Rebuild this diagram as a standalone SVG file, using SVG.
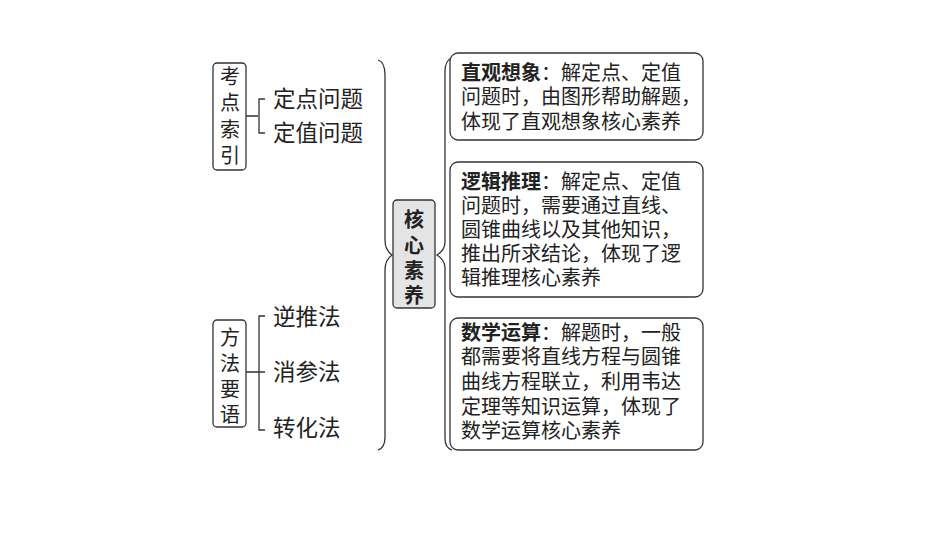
<svg xmlns="http://www.w3.org/2000/svg" width="950" height="535" viewBox="0 0 950 535">
<style>
text{font-family:"Noto Sans CJK SC","Liberation Serif",serif;font-size:20px;fill:#222}
.b{font-weight:bold}
.l{font-size:22.5px}
.box{fill:#fff;stroke:#333;stroke-width:1.3}
.ln{fill:none;stroke:#333;stroke-width:1.3}
.v{text-anchor:middle}
</style>
<rect width="950" height="535" fill="#fff"/>
<g id="connectors">
<path class="ln" d="M246,116 H258 M265,99 H259 V133 H265"/>
<path class="ln" d="M246,372 H265 M265,316 H259 V430 H265"/>
<path class="ln" d="M378,60 Q385,62 385,75 V240 Q385,250 392,255 Q385,260 385,270 V437 Q385,448 378,450"/>
<path class="ln" d="M452,58 Q445,60 445,72 V242 Q445,250 437,255 Q445,260 445,268 V438 Q445,448 452,450"/>
</g>
<g id="kaodian">
<rect class="box" x="213" y="63" width="33" height="107" rx="4"/>
<text class="v" x="230" y="84">考</text><text class="v" x="230" y="110">点</text><text class="v" x="230" y="137">索</text><text class="v" x="230" y="163">引</text>
</g>
<g id="d1"><text class="l" x="273" y="107">定点问题</text></g>
<g id="d2"><text class="l" x="273" y="141">定值问题</text></g>
<g id="fangfa">
<rect class="box" x="213" y="320" width="33" height="107" rx="4"/>
<text class="v" x="230" y="345">方</text><text class="v" x="230" y="371">法</text><text class="v" x="230" y="397">要</text><text class="v" x="230" y="422">语</text>
</g>
<g id="m1"><text class="l" x="273" y="325">逆推法</text></g>
<g id="m2"><text class="l" x="273" y="380">消参法</text></g>
<g id="m3"><text class="l" x="273" y="436">转化法</text></g>
<g id="core">
<rect x="393" y="200" width="42" height="108" rx="4" fill="#e4e4e4" stroke="#333" stroke-width="1.3"/>
<text class="v b" x="414" y="227">核</text><text class="v b" x="414" y="253">心</text><text class="v b" x="414" y="278">素</text><text class="v b" x="414" y="303">养</text>
</g>
<g id="r1">
<rect class="box" x="450" y="53" width="253" height="87" rx="8"/>
<text x="461" y="80"><tspan class="b">直观想象</tspan>：解定点、定值</text>
<text x="461" y="104">问题时，由图形帮助解题，</text>
<text x="461" y="129">体现了直观想象核心素养</text>
</g>
<g id="r2">
<rect class="box" x="450" y="162" width="253" height="135" rx="8"/>
<text x="461" y="189"><tspan class="b">逻辑推理</tspan>：解定点、定值</text>
<text x="461" y="213">问题时，需要通过直线、</text>
<text x="461" y="237">圆锥曲线以及其他知识，</text>
<text x="461" y="261">推出所求结论，体现了逻</text>
<text x="461" y="285">辑推理核心素养</text>
</g>
<g id="r3">
<rect class="box" x="450" y="318" width="253" height="132" rx="8"/>
<text x="461" y="340"><tspan class="b">数学运算</tspan>：解题时，一般</text>
<text x="461" y="364">都需要将直线方程与圆锥</text>
<text x="461" y="389">曲线方程联立，利用韦达</text>
<text x="461" y="414">定理等知识运算，体现了</text>
<text x="461" y="438">数学运算核心素养</text>
</g>
</svg>
